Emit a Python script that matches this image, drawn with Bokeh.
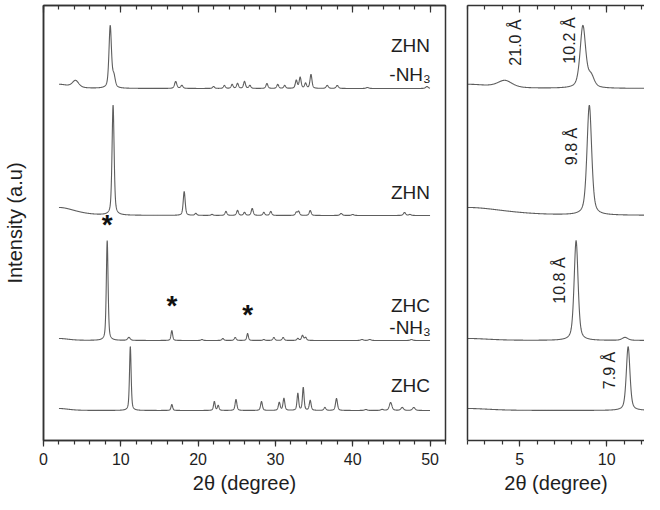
import numpy as np
from bokeh.plotting import figure
from bokeh.layouts import row
from bokeh.models import (LinearAxis, SingleIntervalTicker, FixedTicker, Range1d,
                          ColumnDataSource, CustomJSTickFormatter)
from bokeh.core.properties import value
from bokeh.embed import file_html
from bokeh.resources import INLINE

FONT = "Liberation Sans"

# ---------------- data ----------------
# 2-theta scan range (degrees)
scan_start, scan_end, scan_step = 2.0, 50.0, 0.02

# vertical offset of each pattern (arbitrary intensity units)
pattern_names = ["ZHC", "ZHC-NH3", "ZHN", "ZHN-NH3"]
pattern_offsets = [30, 100, 225, 352]

# peak lists: position (deg), height (a.u.), FWHM (deg)
zhc_pos = [2.0, 11.23, 16.6, 22.1, 22.6, 24.9, 28.2, 30.5, 31.1, 32.9, 33.6, 34.5, 36.4, 37.9, 41.7, 43.8, 44.9, 46.4, 47.9]
zhc_hgt = [2, 64, 6, 9, 5, 11, 9, 8, 12, 17, 23, 10, 3, 12, 1, 1, 8, 3, 3]
zhc_fwhm = [3.0, 0.25, 0.25, 0.25, 0.25, 0.28, 0.28, 0.28, 0.28, 0.25, 0.25, 0.28, 0.3, 0.3, 0.4, 0.4, 0.4, 0.4, 0.4]

zhcn_pos = [2.0, 8.24, 11.05, 16.6, 20.5, 23.2, 24.8, 26.4, 28.5, 29.8, 31.0, 32.9, 33.5, 33.9, 41.2, 42.2, 47.6]
zhcn_hgt = [2, 100, 3, 10, 1, 2, 3, 7, 1, 3, 3, 2, 5, 3, 1, 1, 1]
zhcn_fwhm = [3.0, 0.27, 0.4, 0.25, 0.3, 0.3, 0.3, 0.25, 0.3, 0.3, 0.3, 0.3, 0.3, 0.3, 0.4, 0.4, 0.4]

zhn_pos = [2.0, 9.0, 18.2, 19.7, 21.8, 23.6, 25.1, 26.0, 27.0, 28.5, 29.4, 32.7, 33.0, 34.5, 38.5, 40.0, 46.7, 47.4]
zhn_hgt = [8, 110, 24, 2, 1, 4, 5, 3, 7, 3, 4, 3, 4, 5, 2, 1, 3, 1]
zhn_fwhm = [5.0, 0.32, 0.3, 0.3, 0.3, 0.3, 0.3, 0.3, 0.3, 0.3, 0.3, 0.3, 0.3, 0.3, 0.35, 0.35, 0.35, 0.35]

zhnn_pos = [2.0, 4.15, 8.63, 9.1, 17.1, 17.9, 22.0, 23.4, 24.4, 25.1, 26.0, 26.7, 28.9, 30.3, 31.2, 32.7, 33.2, 33.9, 34.6, 36.7, 38.0, 41.9, 49.6]
zhnn_hgt = [4, 7, 62, 11, 7, 3, 2, 3, 4, 5, 7, 3, 5, 4, 3, 8, 11, 5, 14, 3, 3, 1, 2]
zhnn_fwhm = [3.0, 1.0, 0.38, 0.42, 0.35, 0.35, 0.3, 0.3, 0.3, 0.3, 0.3, 0.3, 0.3, 0.3, 0.3, 0.3, 0.3, 0.3, 0.3, 0.35, 0.35, 0.4, 0.4]

# sample labels (left panel)
sample_text = ["ZHN", "-NH\u2083", "ZHN", "ZHC", "-NH\u2083", "ZHC"]
sample_x = [50.0, 50.1, 50.0, 50.0, 50.1, 50.0]
sample_y = [395, 366, 248, 135, 113, 55]

# asterisk marks (left panel)
star_x = [8.24, 16.6, 26.4]
star_y = [210, 129, 120]

# d-spacing labels (right panel)
d_text = ["21.0 \u00c5", "10.2 \u00c5", "9.8 \u00c5", "10.8 \u00c5", "7.9 \u00c5"]
d_x = [4.75, 7.87, 8.0, 7.3, 10.15]
d_y = [398, 400, 294, 160, 70]

# ---------------- build profiles from peak lists ----------------
two_theta = np.arange(scan_start, scan_end + scan_step / 2, scan_step)


def profile(pos, hgt, fwhm, offset, eta=0.5):
    y = np.full_like(two_theta, float(offset))
    for c, h, w in zip(pos, hgt, fwhm):
        d = (two_theta - c) / w
        lor = 1.0 / (1.0 + 4.0 * d * d)
        gau = np.exp(-4.0 * np.log(2.0) * d * d)
        y += h * (eta * lor + (1 - eta) * gau)
    return y


peak_sets = [
    (zhc_pos, zhc_hgt, zhc_fwhm),
    (zhcn_pos, zhcn_hgt, zhcn_fwhm),
    (zhn_pos, zhn_hgt, zhn_fwhm),
    (zhnn_pos, zhnn_hgt, zhnn_fwhm),
]
sources = []
for (pos, hgt, fw), off in zip(peak_sets, pattern_offsets):
    sources.append(ColumnDataSource(dict(x=two_theta, y=profile(pos, hgt, fw, off))))

LINE = "#5e5e5e"
AX = "#333333"
TXT = "#1e1e1e"


def style_axes(p, major):
    nminor = 5
    xa = p.xaxis[0]
    xa.ticker = SingleIntervalTicker(interval=major, num_minor_ticks=nminor)
    xa.major_tick_out = 6
    xa.major_tick_in = 0
    xa.minor_tick_out = 4
    xa.minor_tick_in = 0
    xa.axis_line_color = AX
    xa.axis_line_width = 1.5
    xa.major_tick_line_color = AX
    xa.minor_tick_line_color = AX
    xa.major_tick_line_width = 1.2
    xa.minor_tick_line_width = 1.2
    xa.major_label_text_font = FONT
    xa.major_label_text_font_size = "16px"
    xa.major_label_text_color = TXT
    xa.major_label_standoff = 6
    xa.axis_label = "2\u03b8 (degree)"
    xa.axis_label_text_font = FONT
    xa.axis_label_text_font_size = "20px"
    xa.axis_label_text_font_style = "normal"
    xa.axis_label_text_color = TXT
    xa.axis_label_standoff = 4

    top = LinearAxis(ticker=SingleIntervalTicker(interval=major, num_minor_ticks=nminor),
                     formatter=CustomJSTickFormatter(code="return ''"))
    top.major_tick_in = 7
    top.major_tick_out = 0
    top.minor_tick_in = 4
    top.minor_tick_out = 0
    top.axis_line_color = AX
    top.axis_line_width = 1.5
    top.major_tick_line_color = AX
    top.minor_tick_line_color = AX
    top.major_tick_line_width = 1.2
    top.minor_tick_line_width = 1.2
    top.major_label_text_font_size = "1px"
    top.major_label_standoff = 0
    p.add_layout(top, "above")

    ya = p.yaxis[0]
    ya.ticker = FixedTicker(ticks=[])
    ya.major_tick_in = 0
    ya.major_tick_out = 0
    ya.minor_tick_in = 0
    ya.minor_tick_out = 0
    ya.major_label_standoff = 0
    ya.axis_line_color = AX
    ya.axis_line_width = 1.5

    p.xgrid.grid_line_color = None
    p.ygrid.grid_line_color = None
    p.background_fill_color = "white"
    p.border_fill_color = "white"


BT, BB = 5, 56
FH = 435

# ---------------- left panel ----------------
p1 = figure(width=39 + 406 + 10, height=BT + FH + BB, x_range=Range1d(0, 52), y_range=Range1d(0, 435),
            min_border_left=39, min_border_right=10, min_border_top=BT, min_border_bottom=BB,
            output_backend="svg", toolbar_location=None)
style_axes(p1, 10)
p1.outline_line_color = AX
p1.outline_line_width = 1.5
p1.yaxis[0].axis_label = "Intensity (a.u)"
p1.yaxis[0].axis_label_text_font = FONT
p1.yaxis[0].axis_label_text_font_size = "20px"
p1.yaxis[0].axis_label_text_font_style = "normal"
p1.yaxis[0].axis_label_text_color = TXT
p1.yaxis[0].axis_label_standoff = 18

for s in sources:
    p1.line("x", "y", source=s, line_color=LINE, line_width=1.1)

p1.text(x=sample_x, y=sample_y, text=sample_text, text_align="right", text_baseline="middle",
        text_font=value(FONT), text_font_size="19px", text_color=TXT)
p1.text(x=star_x, y=[v + 6 for v in star_y], text=["*"] * len(star_x), text_align="center",
        text_baseline="middle", text_font=value(FONT), text_font_size="28px",
        text_font_style="bold", text_color="#111111")

# ---------------- right panel ----------------
p2 = figure(width=12 + 177, height=BT + FH + BB, x_range=Range1d(2.0, 12.17), y_range=Range1d(0, 435),
            min_border_left=12, min_border_right=0, min_border_top=BT, min_border_bottom=BB,
            output_backend="svg", toolbar_location=None)
style_axes(p2, 5)
p2.outline_line_color = None

for s in sources:
    p2.line("x", "y", source=s, line_color=LINE, line_width=1.1)

p2.text(x=d_x, y=d_y, text=d_text, angle=np.pi / 2, text_align="center", text_baseline="middle",
        text_font=value(FONT), text_font_size="16px", text_color=TXT)

layout = row(p1, p2, spacing=0)
open("out.html", "w").write(file_html(layout, INLINE))
